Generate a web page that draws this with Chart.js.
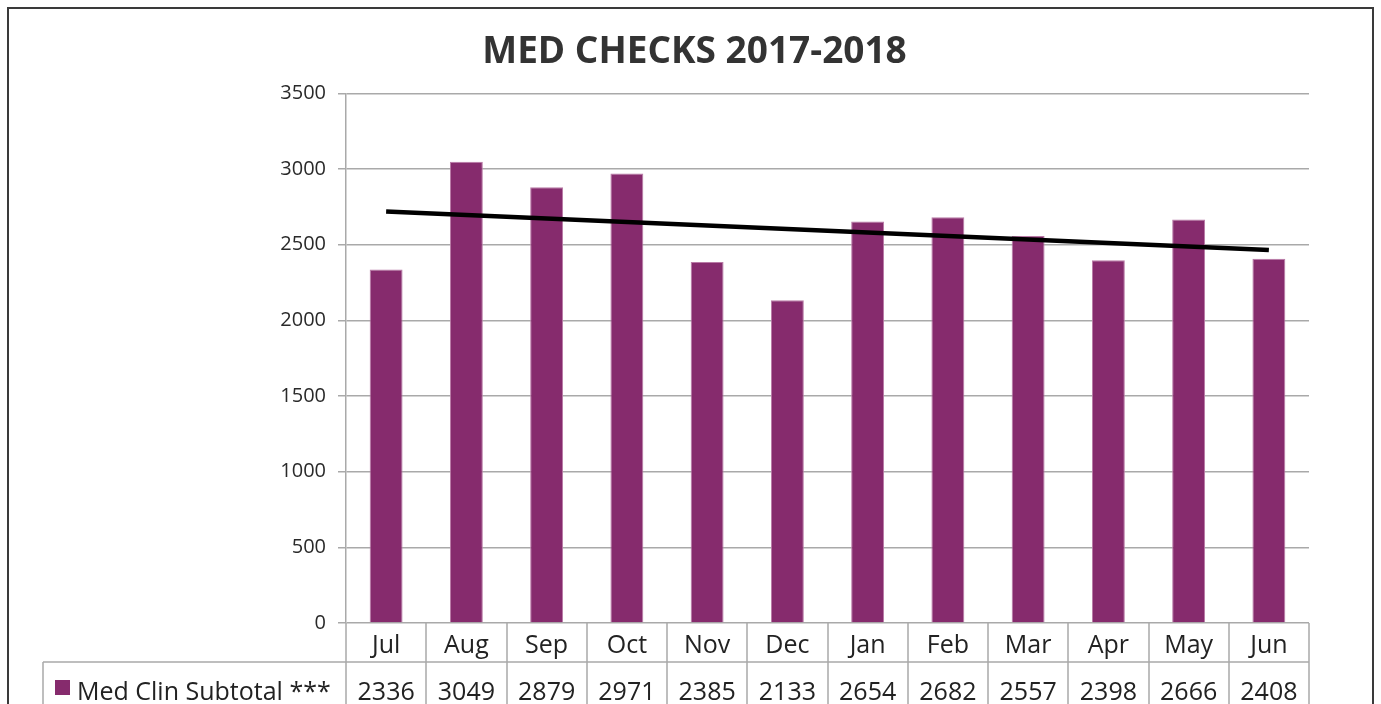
<!DOCTYPE html>
<html>
<head>
<meta charset="utf-8">
<title>Med Checks 2017-2018</title>
<script src="https://cdn.jsdelivr.net/npm/chart.js@4.4.0/dist/chart.umd.min.js"></script>
<style>
    html, body { margin: 0; padding: 0; background: #fff; }
    #wrap { position: relative; width: 1381px; height: 704px; }
</style>
</head>
<body>
<div id="wrap"><canvas id="canvas1"></canvas></div>
<script>
// chart data
const months = ["Jul", "Aug", "Sep", "Oct", "Nov", "Dec", "Jan", "Feb", "Mar", "Apr", "May", "Jun"];
const medClinSubtotal = [2336, 3049, 2879, 2971, 2385, 2133, 2654, 2682, 2557, 2398, 2666, 2408];
// linear trendline (Jul -> Jun)
const trendLine = [2720, null, null, null, null, null, null, null, null, null, null, 2465];
const yTicks = [0, 500, 1000, 1500, 2000, 2500, 3000, 3500];
const seriesName = "Med Clin Subtotal ***";

const FONT = "'Open Sans', 'Liberation Sans', sans-serif";
const BAR_COLOR = '#862b6d';
const LINE_GRAY = '#a9a9a9';

// draws the border + data table under the plot
const tablePlugin = {
    id: 'dataTable',
    beforeDraw: function (chart) {
        let ctx = chart.ctx;
        ctx.save();
        ctx.fillStyle = '#fff';
        ctx.fillRect(0, 0, chart.width, chart.height);
        ctx.restore();
    },
    afterDraw: function (chart) {
        let ctx = chart.ctx;
        let area = chart.chartArea;
        let xs = chart.scales.x;
        let colW = (area.right - area.left) / months.length;
        let row2Top = area.bottom + 39;
        let bottom = chart.height + 5;

        ctx.save();
        ctx.strokeStyle = LINE_GRAY;
        ctx.lineWidth = 1.5;

        // column separators
        for (let i = 0; i <= months.length; i++) {
            let x = Math.round(area.left + i * colW);
            ctx.beginPath();
            ctx.moveTo(x, area.bottom);
            ctx.lineTo(x, bottom);
            ctx.stroke();
        }
        // row line + left edge of legend cell
        ctx.beginPath();
        ctx.moveTo(43, row2Top);
        ctx.lineTo(area.right, row2Top);
        ctx.moveTo(43, row2Top);
        ctx.lineTo(43, bottom);
        ctx.stroke();

        // month labels and values
        ctx.fillStyle = '#222';
        ctx.textAlign = 'center';
        ctx.textBaseline = 'middle';
        ctx.font = '25px ' + FONT;
        months.forEach(function (m, i) {
            let cx = xs.getPixelForValue(i);
            ctx.fillText(m, cx, area.bottom + 23);
            ctx.fillText(String(medClinSubtotal[i]), cx, row2Top + 31);
        });

        // legend key
        ctx.fillStyle = BAR_COLOR;
        ctx.fillRect(55, row2Top + 18, 15, 15);
        ctx.fillStyle = '#222';
        ctx.textAlign = 'left';
        ctx.fillText(seriesName, 77, row2Top + 31);

        // outer frame
        ctx.strokeStyle = '#3a3a3a';
        ctx.lineWidth = 2;
        ctx.strokeRect(8, 8, chart.width - 16, chart.height + 20);
        ctx.restore();
    }
};

let chartdata = {
    labels: months,
    datasets: [{
        type: 'line',
        label: 'Trend',
        data: trendLine,
        borderColor: '#000',
        borderWidth: 4.5,
        pointRadius: 0,
        spanGaps: true,
        order: 0
    }, {
        type: 'bar',
        label: seriesName,
        data: medClinSubtotal,
        backgroundColor: BAR_COLOR,
        borderColor: '#b97aa6',
        borderWidth: 1,
        categoryPercentage: 1.0,
        barPercentage: 0.41,
        order: 1
    }]
};

new Chart(document.getElementById('canvas1'), {
    data: chartdata,
    plugins: [tablePlugin],
    options: {
        responsive: true,
        maintainAspectRatio: false,
        animation: false,
        layout: {
            padding: { left: 80, right: 72, top: 0, bottom: 81 }
        },
        plugins: {
            legend: { display: false },
            tooltip: { enabled: false },
            title: {
                display: true,
                text: 'MED CHECKS 2017-2018',
                color: '#333',
                font: { family: FONT, size: 37, weight: 'bold' },
                padding: { top: 30, bottom: 19 }
            }
        },
        scales: {
            x: {
                display: false
            },
            y: {
                min: 0,
                max: 3500,
                afterBuildTicks: function (scale) {
                    scale.ticks = yTicks.map(function (v) { return { value: v }; });
                },
                afterFit: function (scale) {
                    scale.width = 266;
                },
                ticks: {
                    color: '#2a2a2a',
                    padding: 12,
                    font: { family: FONT, size: 20 },
                    callback: function (v) { return String(v); }
                },
                grid: {
                    color: LINE_GRAY,
                    lineWidth: 1.5,
                    tickLength: 8
                },
                border: {
                    display: true,
                    color: LINE_GRAY,
                    width: 1.5
                }
            }
        }
    }
});
</script>
</body>
</html>
